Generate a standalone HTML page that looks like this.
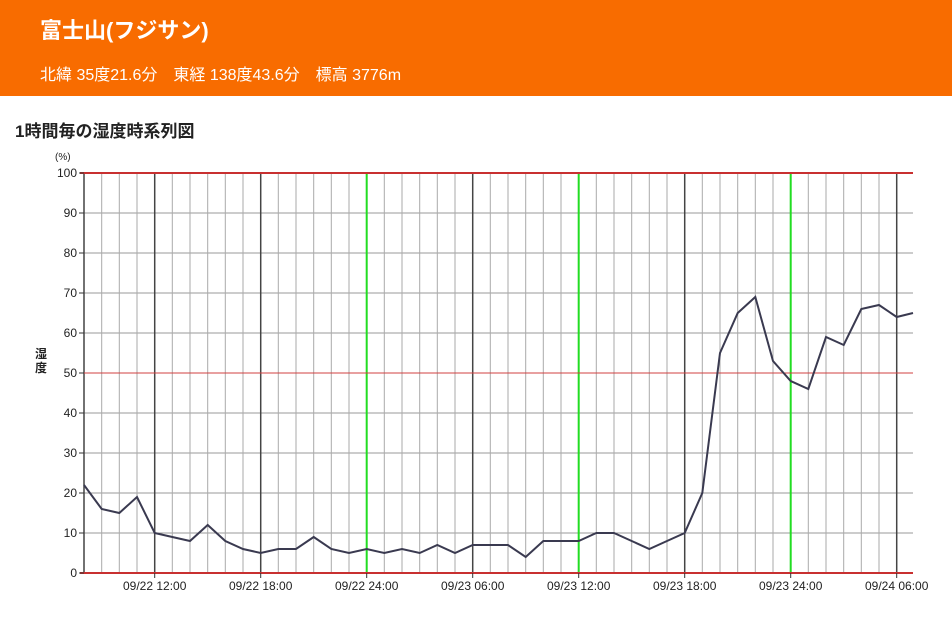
<!DOCTYPE html>
<html><head><meta charset="utf-8"><style>
body{margin:0;width:952px;height:623px;background:#fff;font-family:"Liberation Sans","Noto Sans CJK JP",sans-serif;overflow:hidden}
.h{position:absolute;left:0;top:0;width:952px;height:96px;background:#f86c00;color:#fff}
.t{position:absolute;left:40px;top:13px;font-size:22px;font-weight:bold}
.s{position:absolute;left:40px;top:61px;font-size:16px}
.c{position:absolute;left:15px;top:117px;font-size:17px;font-weight:bold;color:#222}
</style></head><body>
<div class="h"><div class="t">富士山(フジサン)</div><div class="s">北緯 35度21.6分　東経 138度43.6分　標高 3776m</div></div>
<div class="c">1時間毎の湿度時系列図</div>
<svg width="952" height="623" style="position:absolute;left:0;top:0" font-family="Liberation Sans, sans-serif">
<path d="M84 533H913M84 493H913M84 453H913M84 413H913M84 333H913M84 293H913M84 253H913M84 213H913" stroke="#999" stroke-width="1"/>
<path d="M101.7 173V573M119.3 173V573M137 173V573M172.3 173V573M190 173V573M207.7 173V573M225.3 173V573M243 173V573M278.3 173V573M296 173V573M313.7 173V573M331.3 173V573M349 173V573M384.3 173V573M402 173V573M419.7 173V573M437.3 173V573M455 173V573M490.3 173V573M508 173V573M525.7 173V573M543.3 173V573M561 173V573M596.3 173V573M614 173V573M631.7 173V573M649.3 173V573M667 173V573M702.3 173V573M720 173V573M737.7 173V573M755.3 173V573M773 173V573M808.3 173V573M826 173V573M843.7 173V573M861.3 173V573M879 173V573" stroke="#aaa" stroke-width="1"/>
<path d="M84 173V573M154.7 173V573M260.7 173V573M472.7 173V573M684.7 173V573M896.7 173V573" stroke="#444" stroke-width="1.5"/>
<path d="M366.7 173V573M578.7 173V573M790.7 173V573" stroke="#22dd22" stroke-width="2"/>
<path d="M80 573H913M80 173H913" stroke="#c83030" stroke-width="2"/>
<path d="M80 373H913" stroke="#d04040" stroke-width="1"/>
<path d="M79 573H84M79 533H84M79 493H84M79 453H84M79 413H84M79 373H84M79 333H84M79 293H84M79 253H84M79 213H84M79 173H84M154.7 573V578M260.7 573V578M366.7 573V578M472.7 573V578M578.7 573V578M684.7 573V578M790.7 573V578M896.7 573V578" stroke="#333"/>
<g font-size="12" text-anchor="end" fill="#222">
<text x="77" y="577">0</text><text x="77" y="537">10</text><text x="77" y="497">20</text><text x="77" y="457">30</text><text x="77" y="417">40</text><text x="77" y="377">50</text><text x="77" y="337">60</text><text x="77" y="297">70</text><text x="77" y="257">80</text><text x="77" y="217">90</text><text x="77" y="177">100</text>
</g>
<g font-size="12" text-anchor="middle" fill="#222">
<text x="154.7" y="590">09/22 12:00</text><text x="260.7" y="590">09/22 18:00</text><text x="366.7" y="590">09/22 24:00</text><text x="472.7" y="590">09/23 06:00</text><text x="578.7" y="590">09/23 12:00</text><text x="684.7" y="590">09/23 18:00</text><text x="790.7" y="590">09/23 24:00</text><text x="896.7" y="590">09/24 06:00</text>
</g>
<text x="55" y="160" font-size="10" fill="#222">(%)</text>
<text x="41" y="358" font-size="12" font-weight="bold" fill="#222" text-anchor="middle" font-family="Noto Sans CJK JP, sans-serif">湿</text>
<text x="41" y="372" font-size="12" font-weight="bold" fill="#222" text-anchor="middle" font-family="Noto Sans CJK JP, sans-serif">度</text>
<polyline fill="none" stroke="#3a3a50" stroke-width="2" points="84,485 101.7,509 119.3,513 137,497 154.7,533 172.3,537 190,541 207.7,525 225.3,541 243,549 260.7,553 278.3,549 296,549 313.7,537 331.3,549 349,553 366.7,549 384.3,553 402,549 419.7,553 437.3,545 455,553 472.7,545 490.3,545 508,545 525.7,557 543.3,541 561,541 578.7,541 596.3,533 614,533 631.7,541 649.3,549 667,541 684.7,533 702.3,493 720,353 737.7,313 755.3,297 773,361 790.7,381 808.3,389 826,337 843.7,345 861.3,309 879,305 896.7,317 913,313"/>
</svg>
</body></html>
